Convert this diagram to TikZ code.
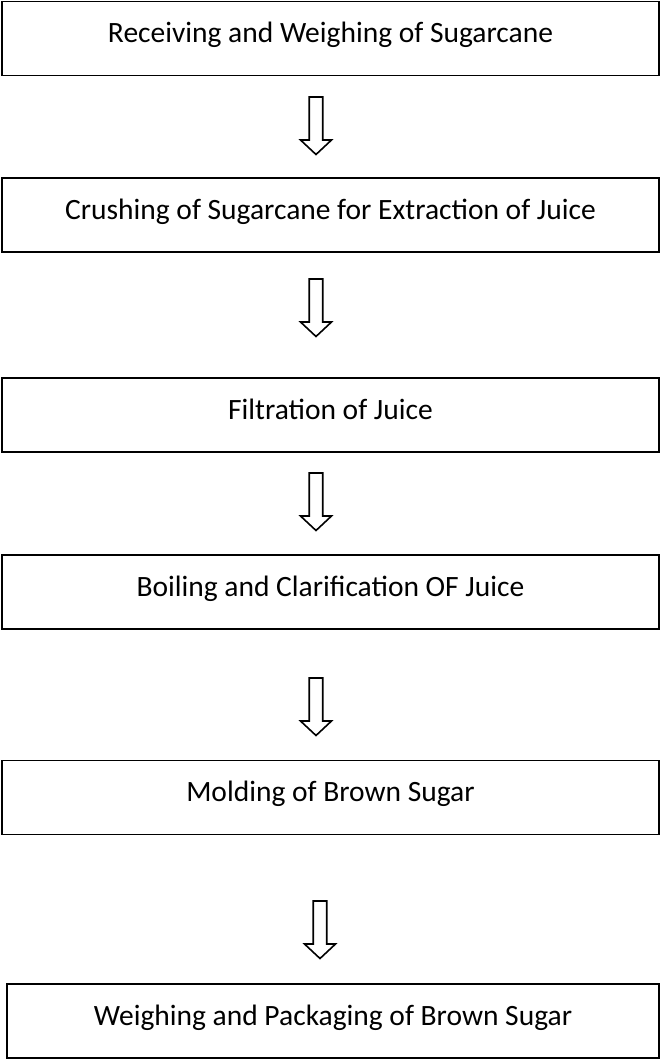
\documentclass[tikz,border=0pt]{standalone}
\usepackage{fontspec}
\setmainfont{Carlito}
\usetikzlibrary{calc}
\begin{document}
\begin{tikzpicture}[x=1pt,y=-1pt,
  stagebox/.style={draw=black, line width=1.8pt, minimum height=74pt, inner sep=0pt,
    font=\fontsize{29.5}{34}\selectfont, text height=0.9em, text depth=0.1em},
  blockarr/.style={draw=black, line width=1.6pt, fill=white, line join=miter}]
\useasboundingbox (0,0) rectangle (660,1062);
\node[stagebox, minimum width=657pt] (b1) at (330.5,38.5) {Receiving and Weighing of Sugarcane};
\node[stagebox, minimum width=657pt] (b2) at (330.5,215) {Crushing of Sugarcane for Extraction of Juice};
\node[stagebox, minimum width=657pt] (b3) at (330.5,415) {Filtration of Juice};
\node[stagebox, minimum width=657pt] (b4) at (330.5,592) {Boiling and Clarification OF Juice};
\node[stagebox, minimum width=657pt] (b5) at (330.5,797.5) {Molding of Brown Sugar};
\node[stagebox, minimum width=652pt] (b6) at (333,1021) {Weighing and Packaging of Brown Sugar};
\newcommand{\flowarrow}[3]{%
  \coordinate (#1) at (#2,#3);
  \draw[blockarr] ($(#1)+(-6.75,0)$) -- ($(#1)+(6.75,0)$) -- ($(#1)+(6.75,43)$) -- ($(#1)+(15.5,43)$)
    -- ($(#1)+(0,57.5)$) -- ($(#1)+(-15.5,43)$) -- ($(#1)+(-6.75,43)$) -- cycle;}
\flowarrow{a1}{316}{97}
\flowarrow{a2}{316}{279}
\flowarrow{a3}{316}{473}
\flowarrow{a4}{316}{678}
\flowarrow{a5}{320}{901}
\end{tikzpicture}
\end{document}
